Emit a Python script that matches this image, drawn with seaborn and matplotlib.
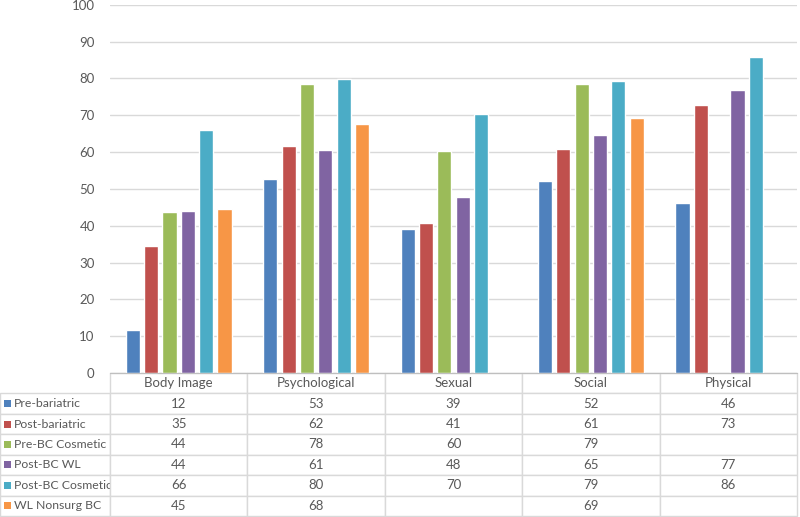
import numpy as np
import pandas as pd
import matplotlib
matplotlib.use('Agg')
import matplotlib.pyplot as plt
import seaborn as sns
from matplotlib.patches import Rectangle
from matplotlib.table import Table

# Data
domains = ['Body Image', 'Psychological', 'Sexual', 'Social', 'Physical']
groups = ['Pre-bariatric', 'Post-bariatric', 'Pre-BC Cosmetic',
          'Post-BC WL', 'Post-BC Cosmetic', 'WL Nonsurg BC']
pre_bariatric = [11.6, 52.8, 39.1, 52.1, 46.1]
post_bariatric = [34.6, 61.6, 40.7, 60.7, 72.8]
pre_bc_cosmetic = [43.7, 78.4, 60.2, 78.6, np.nan]
post_bc_wl = [44.1, 60.6, 47.7, 64.6, 76.8]
post_bc_cosmetic = [65.9, 79.9, 70.3, 79.4, 85.9]
wl_nonsurg_bc = [44.6, 67.7, np.nan, 69.2, np.nan]
colors = ['#4F81BD', '#C0504D', '#9BBB59', '#8064A2', '#4BACC6', '#F79646']

series = [pre_bariatric, post_bariatric, pre_bc_cosmetic,
          post_bc_wl, post_bc_cosmetic, wl_nonsurg_bc]

# long-form table for seaborn
rows = []
for g, vals in zip(groups, series):
    for d, v in zip(domains, vals):
        rows.append({'domain': d, 'group': g, 'score': v})
df = pd.DataFrame(rows).dropna()

sns.set_style('whitegrid')
plt.rcParams['font.family'] = ['Lato', 'DejaVu Sans']
text_col = '#595959'
line_col = '#D9D9D9'

fig = plt.figure(figsize=(8, 5.17), dpi=100)
ax = fig.add_axes([110 / 800, 1 - 373 / 517, 687 / 800, 368.3 / 517])

sns.barplot(data=df, x='domain', y='score', hue='group', order=domains,
            hue_order=groups, palette=colors, width=0.8, gap=0.23,
            errorbar=None, saturation=1, legend=False, ax=ax)

ax.set_ylim(0, 100)
ax.set_yticks(range(0, 101, 10))
ax.set_xlabel('')
ax.set_ylabel('')
ax.set_xticklabels([])
ax.tick_params(axis='x', length=0)
ax.tick_params(axis='y', length=0, pad=11, labelsize=9.5, labelcolor=text_col)
ax.grid(axis='y', color=line_col, lw=1)
ax.grid(axis='x', visible=False)
for s in ['left', 'right', 'top']:
    ax.spines[s].set_visible(False)
ax.spines['bottom'].set_color('#BFBFBF')

# data table under the chart
tbl = Table(ax, bbox=[-110 / 687, -143 / 368.3, 797 / 687, 143 / 368.3])
lab_w, col_w, row_h = 110, 137.4, 20.4
for j, d in enumerate(domains):
    tbl.add_cell(0, j + 1, col_w, row_h, text=d, loc='center')
for i, (g, vals) in enumerate(zip(groups, series)):
    tbl.add_cell(i + 1, 0, lab_w, row_h, text=g, loc='left')
    for j, v in enumerate(vals):
        tbl.add_cell(i + 1, j + 1, col_w, row_h,
                     text='' if np.isnan(v) else f'{v:.0f}', loc='center')
tbl.auto_set_font_size(False)
tbl.set_fontsize(9.5)
for (r, c), cell in tbl.get_celld().items():
    cell.set_edgecolor(line_col)
    cell.set_linewidth(1)
    cell.get_text().set_color(text_col)
    if c == 0:
        cell.PAD = 14 / 110
        cell.get_text().set_fontsize(8.8)
ax.add_table(tbl)

fig.canvas.draw()
for i, col in enumerate(colors):
    cell = tbl[(i + 1, 0)]
    x, y, h = cell.get_x(), cell.get_y(), cell.get_height()
    sq_w, sq_h = 7 / 687, 7 / 368.3
    ax.add_patch(Rectangle((x + 4 / 687, y + h / 2 - sq_h / 2), sq_w, sq_h,
                           facecolor=col, edgecolor='none',
                           transform=ax.transAxes, clip_on=False))

fig.savefig('out.png', dpi=100)
